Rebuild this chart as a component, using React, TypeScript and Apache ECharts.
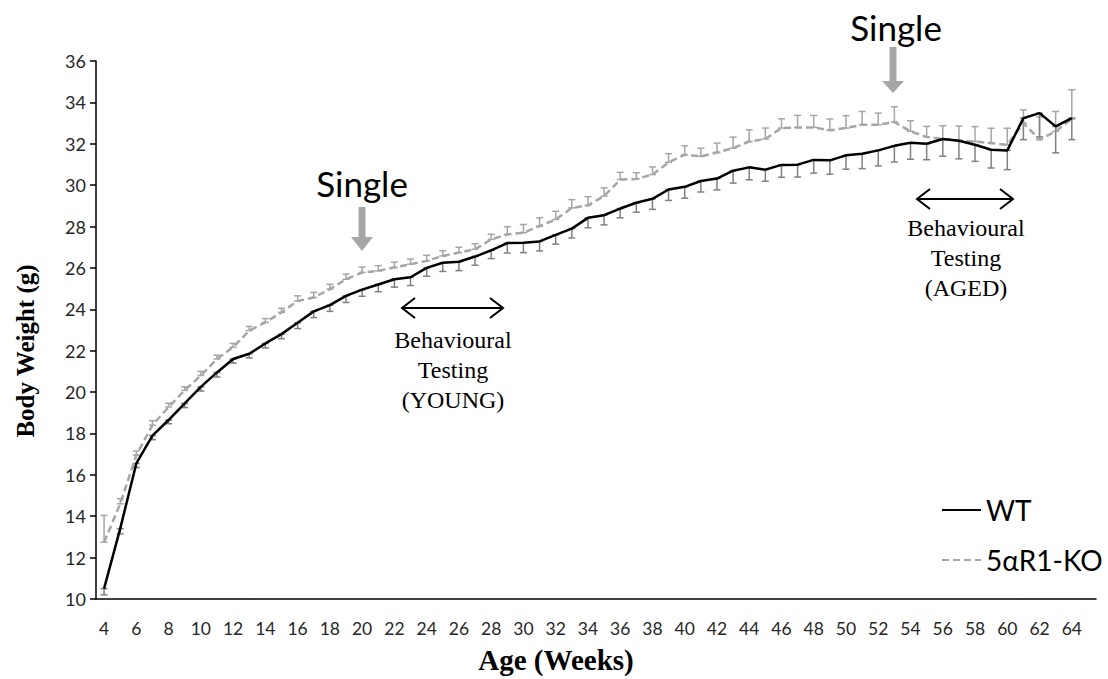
import React, { useEffect, useRef } from "react";
import * as echarts from "echarts";

const weeks = [
  "4","5","6","7","8","9","10","11","12","13","14","15","16","17","18","19","20",
  "21","22","23","24","25","26","27","28","29","30","31","32","33","34","35","36",
  "37","38","39","40","41","42","43","44","45","46","47","48","49","50","51","52",
  "53","54","55","56","57","58","59","60","61","62","63","64","65",
];

const wtMean = [
  10.5, 13.4, 16.55, 17.9, 18.65, 19.45, 20.25, 20.95, 21.6, 21.85, 22.35, 22.8,
  23.35, 23.9, 24.2, 24.65, 24.95, 25.2, 25.45, 25.55, 26.0, 26.25, 26.3, 26.55,
  26.85, 27.2, 27.22, 27.28, 27.6, 27.9, 28.42, 28.55, 28.87, 29.15, 29.34, 29.79,
  29.92, 30.2, 30.32, 30.7, 30.86, 30.75, 30.98, 30.99, 31.22, 31.2, 31.44, 31.52,
  31.68, 31.9, 32.05, 32.0, 32.23, 32.15, 31.95, 31.71, 31.68, 33.24, 33.48, 32.84,
  33.24,
];

const wtErr = [
  0.3, 0.25, 0.2, 0.2, 0.18, 0.2, 0.2, 0.22, 0.2, 0.2, 0.22, 0.22,
  0.28, 0.3, 0.3, 0.32, 0.32, 0.35, 0.38, 0.4, 0.4, 0.42, 0.43, 0.42,
  0.4, 0.48, 0.48, 0.46, 0.45, 0.45, 0.48, 0.47, 0.45, 0.46, 0.51, 0.53,
  0.55, 0.53, 0.55, 0.6, 0.6, 0.56, 0.6, 0.6, 0.64, 0.67, 0.67, 0.72,
  0.75, 0.78, 0.8, 0.77, 0.83, 0.88, 0.8, 0.88, 0.93, 1.04, 1.15, 1.28,
  1.04,
];

const koMean = [
  12.74, 14.6, 16.95, 18.4, 19.28, 20.08, 20.8, 21.6, 22.17, 22.97, 23.37, 23.85,
  24.4, 24.57, 24.97, 25.45, 25.78, 25.86, 26.02, 26.18, 26.34, 26.58, 26.74, 26.9,
  27.38, 27.62, 27.7, 28.02, 28.34, 28.9, 29.02, 29.47, 30.27, 30.3, 30.51, 31.1,
  31.47, 31.39, 31.58, 31.79, 32.11, 32.23, 32.76, 32.79, 32.79, 32.65, 32.76, 32.92,
  32.92, 33.05, 32.6, 32.33, 32.23, 32.16, 32.11, 32.03, 31.95, 33.0, 32.2, 32.6,
  33.2,
];

const koErr = [
  1.3, 0.25, 0.2, 0.22, 0.18, 0.18, 0.2, 0.18, 0.18, 0.2, 0.18, 0.2,
  0.25, 0.25, 0.24, 0.25, 0.26, 0.25, 0.26, 0.25, 0.27, 0.25, 0.26, 0.27,
  0.25, 0.37, 0.4, 0.4, 0.4, 0.4, 0.42, 0.4, 0.35, 0.3, 0.37, 0.42,
  0.43, 0.4, 0.45, 0.53, 0.56, 0.53, 0.45, 0.58, 0.58, 0.55, 0.6, 0.64,
  0.56, 0.74, 0.51, 0.51, 0.64, 0.7, 0.72, 0.72, 0.8, 0.64, 1.1, 0.96,
  1.41,
];

const yTicks = { min: 10, max: 36, step: 2 };

const WT_NAME = "WT";
const KO_NAME = "5αR1-KO";

function errorSeries(means: number[], errs: number[], dir: number, color: string) {
  return {
    type: "custom",
    silent: true,
    z: 1,
    encode: { x: 0, y: 1 },
    data: means.map((m, i) => [i, m, errs[i]]),
    renderItem: (params: any, api: any) => {
      const i = api.value(0);
      const m = api.value(1);
      const e = api.value(2);
      const p0 = api.coord([i, m]);
      const p1 = api.coord([i, m + dir * e]);
      const hw = 3.5;
      const st = { stroke: color, lineWidth: 1.5, fill: "none" };
      return {
        type: "group",
        children: [
          { type: "line", shape: { x1: p0[0], y1: p0[1], x2: p1[0], y2: p1[1] }, style: st },
          { type: "line", shape: { x1: p1[0] - hw, y1: p1[1], x2: p1[0] + hw, y2: p1[1] }, style: st },
          { type: "line", shape: { x1: p0[0] - hw, y1: p0[1], x2: p0[0] + hw, y2: p0[1] }, style: st },
        ],
      };
    },
  };
}

function doubleArrow(x1: number, x2: number, y: number) {
  const hl = 13;
  const hh = 10;
  const st = { stroke: "#000", lineWidth: 2, fill: "none" };
  return [
    { type: "line", shape: { x1, y1: y, x2, y2: y }, style: st },
    { type: "polyline", shape: { points: [[x1 + hl, y - hh], [x1, y], [x1 + hl, y + hh]] }, style: st },
    { type: "polyline", shape: { points: [[x2 - hl, y - hh], [x2, y], [x2 - hl, y + hh]] }, style: st },
  ];
}

function downArrow(cx: number, top: number, headTop: number, tip: number) {
  const c = "#a6a6a6";
  return [
    { type: "rect", shape: { x: cx - 3.5, y: top, width: 7, height: headTop - top }, style: { fill: c } },
    { type: "polygon", shape: { points: [[cx - 11, headTop], [cx + 11, headTop], [cx, tip]] }, style: { fill: c } },
  ];
}

export default function App() {
  const ref = useRef<HTMLDivElement>(null);
  useEffect(() => {
    if (!ref.current) return;
    const chart = echarts.init(ref.current, undefined, { renderer: "svg" });
    const serif = "'Liberation Serif', 'Times New Roman', serif";
    const sans = "Lato, 'Open Sans', sans-serif";
    chart.setOption({
      animation: false,
      backgroundColor: "#fff",
      grid: { left: 96, right: 12, top: 61, bottom: 78 },
      legend: {
        orient: "vertical",
        left: 941,
        top: 496,
        padding: 0,
        itemWidth: 39,
        itemHeight: 14,
        itemGap: 22,
        itemStyle: { opacity: 0 },
        data: [WT_NAME, KO_NAME],
        textStyle: { fontSize: 28, fontFamily: sans, color: "#000" },
      },
      xAxis: {
        type: "category",
        data: weeks,
        boundaryGap: true,
        name: "Age (Weeks)",
        nameLocation: "middle",
        nameGap: 46,
        nameTextStyle: {
          fontFamily: serif,
          fontWeight: "bold",
          fontSize: 29,
          color: "#000",
          padding: [0, 80, 0, 0],
        },
        axisLine: { lineStyle: { color: "#000", width: 1.5 } },
        axisTick: { interval: 1, length: 6, lineStyle: { color: "#000", width: 1.5 } },
        axisLabel: { interval: 1, margin: 20, fontFamily: sans, fontSize: 17.5, color: "#262626" },
        splitLine: { show: false },
      },
      yAxis: {
        type: "value",
        min: yTicks.min,
        max: yTicks.max,
        interval: yTicks.step,
        name: "Body Weight (g)",
        nameLocation: "middle",
        nameGap: 58,
        nameTextStyle: {
          fontFamily: serif,
          fontWeight: "bold",
          fontSize: 25,
          color: "#000",
          padding: [0, 42, 0, 0],
        },
        axisLine: { show: true, lineStyle: { color: "#000", width: 1.5 } },
        axisTick: { show: true, length: 6, lineStyle: { color: "#000", width: 1.5 } },
        axisLabel: { margin: 10, fontFamily: sans, fontSize: 18, color: "#262626" },
        splitLine: { show: false },
      },
      series: [
        errorSeries(koMean, koErr, 1, "#a6a6a6"),
        errorSeries(wtMean, wtErr, -1, "#808080"),
        {
          name: KO_NAME,
          type: "line",
          data: koMean,
          symbol: "none",
          z: 2,
          lineStyle: { color: "#a6a6a6", width: 2.5, type: [7, 4] },
          itemStyle: { color: "#a6a6a6" },
        },
        {
          name: WT_NAME,
          type: "line",
          data: wtMean,
          symbol: "none",
          z: 3,
          lineStyle: { color: "#000", width: 2.5 },
          itemStyle: { color: "#000" },
        },
      ],
      graphic: [
        { type: "text", x: 362, y: 183, style: { text: "Single", font: `35px ${sans}`, fill: "#000", textAlign: "center", textVerticalAlign: "middle" } },
        ...downArrow(362, 207, 237, 251),
        { type: "text", x: 896, y: 27, style: { text: "Single", font: `35px ${sans}`, fill: "#000", textAlign: "center", textVerticalAlign: "middle" } },
        ...downArrow(893, 47, 81, 93),
        ...doubleArrow(402, 503, 308),
        {
          type: "text",
          x: 453,
          y: 325,
          style: { text: "Behavioural\nTesting\n(YOUNG)", font: `24px ${serif}`, lineHeight: 30, fill: "#000", textAlign: "center" },
        },
        ...doubleArrow(917, 1013, 199),
        {
          type: "text",
          x: 966,
          y: 213,
          style: { text: "Behavioural\nTesting\n(AGED)", font: `24px ${serif}`, lineHeight: 30, fill: "#000", textAlign: "center" },
        },
      ],
    });
    return () => chart.dispose();
  }, []);
  return (
    <div
      ref={ref}
      style={{ position: "absolute", left: 0, top: 0, width: 1108, height: 679, background: "#fff" }}
    />
  );
}
